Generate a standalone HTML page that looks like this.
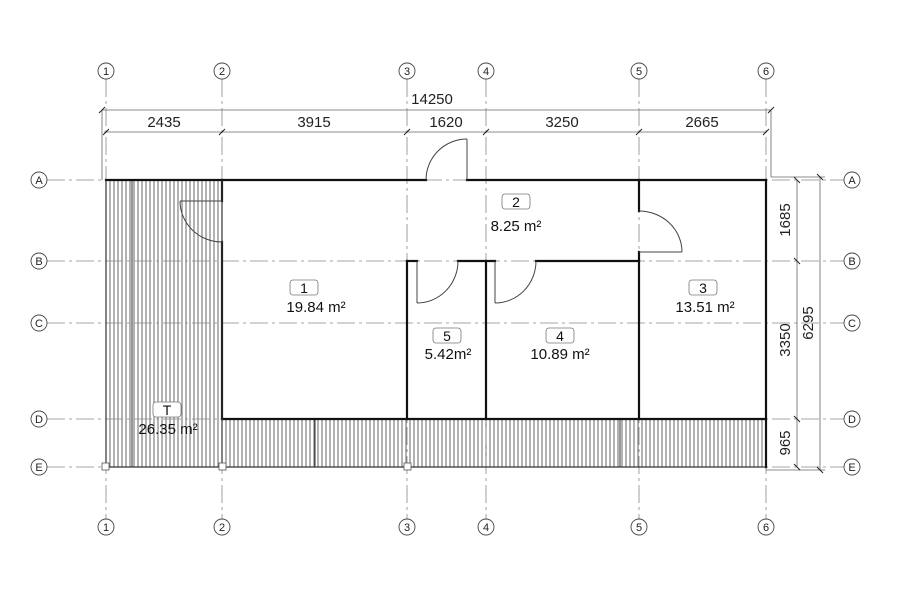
<!DOCTYPE html>
<html><head><meta charset="utf-8"><style>
html,body{margin:0;padding:0;background:#fff;}
svg{display:block;font-family:"Liberation Sans",sans-serif;}
</style></head><body>
<svg width="900" height="600" viewBox="0 0 900 600" xmlns="http://www.w3.org/2000/svg">
<defs>
<pattern id="h" width="4" height="10" patternUnits="userSpaceOnUse">
<line x1="2" y1="0" x2="2" y2="10" stroke="#555" stroke-width="0.9"/>
</pattern>
</defs>
<rect width="900" height="600" fill="#fff"/>
<rect x="106" y="180" width="116" height="287" fill="url(#h)"/>
<rect x="222" y="419" width="544" height="48" fill="url(#h)"/>
<g stroke="#333" stroke-width="1">
<line x1="132" y1="180" x2="132" y2="467"/>
<line x1="315" y1="419" x2="315" y2="467"/>
<line x1="620" y1="419" x2="620" y2="467"/>
</g>
<g stroke="#888" stroke-width="0.8" stroke-dasharray="18,4,3,4" fill="none">
<line x1="106" y1="79" x2="106" y2="519"/>
<line x1="222" y1="79" x2="222" y2="519"/>
<line x1="407" y1="79" x2="407" y2="519"/>
<line x1="486" y1="79" x2="486" y2="519"/>
<line x1="639" y1="79" x2="639" y2="519"/>
<line x1="766" y1="79" x2="766" y2="519"/>
<line x1="47" y1="180" x2="844" y2="180"/>
<line x1="47" y1="261" x2="844" y2="261"/>
<line x1="47" y1="323" x2="844" y2="323"/>
<line x1="47" y1="419" x2="844" y2="419"/>
<line x1="47" y1="467" x2="844" y2="467"/>
</g>
<g fill="#fff" stroke="#444" stroke-width="0.9">
<circle cx="106" cy="71" r="8"/><circle cx="222" cy="71" r="8"/><circle cx="407" cy="71" r="8"/><circle cx="486" cy="71" r="8"/><circle cx="639" cy="71" r="8"/><circle cx="766" cy="71" r="8"/>
<circle cx="106" cy="527" r="8"/><circle cx="222" cy="527" r="8"/><circle cx="407" cy="527" r="8"/><circle cx="486" cy="527" r="8"/><circle cx="639" cy="527" r="8"/><circle cx="766" cy="527" r="8"/>
<circle cx="39" cy="180" r="8"/><circle cx="39" cy="261" r="8"/><circle cx="39" cy="323" r="8"/><circle cx="39" cy="419" r="8"/><circle cx="39" cy="467" r="8"/>
<circle cx="852" cy="180" r="8"/><circle cx="852" cy="261" r="8"/><circle cx="852" cy="323" r="8"/><circle cx="852" cy="419" r="8"/><circle cx="852" cy="467" r="8"/>
</g>
<g font-size="11" fill="#222" text-anchor="middle">
<text x="106" y="75">1</text><text x="222" y="75">2</text><text x="407" y="75">3</text><text x="486" y="75">4</text><text x="639" y="75">5</text><text x="766" y="75">6</text>
<text x="106" y="531">1</text><text x="222" y="531">2</text><text x="407" y="531">3</text><text x="486" y="531">4</text><text x="639" y="531">5</text><text x="766" y="531">6</text>
<text x="39" y="184">A</text><text x="39" y="265">B</text><text x="39" y="327">C</text><text x="39" y="423">D</text><text x="39" y="471">E</text>
<text x="852" y="184">A</text><text x="852" y="265">B</text><text x="852" y="327">C</text><text x="852" y="423">D</text><text x="852" y="471">E</text>
</g>
<g stroke="#666" stroke-width="0.8" fill="none">
<line x1="102" y1="110" x2="771" y2="110"/>
<line x1="102" y1="110" x2="102" y2="180"/>
<line x1="771" y1="110" x2="771" y2="177"/>
<line x1="771" y1="177" x2="825" y2="177"/>
<line x1="104" y1="132" x2="766" y2="132"/>
<line x1="797" y1="180" x2="797" y2="467"/>
<line x1="820" y1="177" x2="820" y2="470"/>
<line x1="766" y1="470" x2="825" y2="470"/>
</g>
<g stroke="#222" stroke-width="1">
<line x1="99" y1="113" x2="105" y2="107"/><line x1="768" y1="113" x2="774" y2="107"/>
<line x1="103" y1="135" x2="109" y2="129"/><line x1="219" y1="135" x2="225" y2="129"/><line x1="404" y1="135" x2="410" y2="129"/><line x1="483" y1="135" x2="489" y2="129"/><line x1="636" y1="135" x2="642" y2="129"/><line x1="763" y1="135" x2="769" y2="129"/>
<line x1="794" y1="177" x2="800" y2="183"/><line x1="794" y1="258" x2="800" y2="264"/><line x1="794" y1="416" x2="800" y2="422"/><line x1="794" y1="464" x2="800" y2="470"/>
<line x1="817" y1="174" x2="823" y2="180"/><line x1="817" y1="467" x2="823" y2="473"/>
</g>
<g font-size="15" fill="#222" text-anchor="middle">
<text x="432" y="104">14250</text>
<text x="164" y="127">2435</text><text x="314" y="127">3915</text><text x="446" y="127">1620</text><text x="562" y="127">3250</text><text x="702" y="127">2665</text>
<text transform="translate(790,220) rotate(-90)">1685</text>
<text transform="translate(790,340) rotate(-90)">3350</text>
<text transform="translate(790,443) rotate(-90)">965</text>
<text transform="translate(813,323) rotate(-90)">6295</text>
</g>
<g stroke="#111" stroke-width="2.2" fill="none" stroke-linecap="square">
<line x1="106" y1="180" x2="426" y2="180"/>
<line x1="467" y1="180" x2="766" y2="180"/>
<line x1="222" y1="180" x2="222" y2="201"/>
<line x1="222" y1="242" x2="222" y2="419"/>
<line x1="407" y1="261" x2="407" y2="419"/>
<line x1="486" y1="261" x2="486" y2="419"/>
<line x1="639" y1="180" x2="639" y2="211"/>
<line x1="639" y1="252" x2="639" y2="419"/>
<line x1="766" y1="180" x2="766" y2="467"/>
<line x1="407" y1="261" x2="417" y2="261"/>
<line x1="458" y1="261" x2="495" y2="261"/>
<line x1="536" y1="261" x2="639" y2="261"/>
<line x1="222" y1="419" x2="766" y2="419"/>
</g>
<g stroke="#333" stroke-width="1.2" fill="none">
<line x1="106" y1="180" x2="106" y2="467"/>
<line x1="106" y1="467" x2="766" y2="467"/>
<line x1="222" y1="180" x2="222" y2="467"/>
</g>
<g stroke="#444" stroke-width="1" fill="none">
<line x1="467" y1="180" x2="467" y2="139"/><path d="M426 180 A41 41 0 0 1 467 139"/>
<line x1="222" y1="201" x2="180" y2="201"/><path d="M180 201 A42 41 0 0 0 222 242"/>
<line x1="639" y1="252" x2="682" y2="252"/><path d="M639 211 A43 41 0 0 1 682 252"/>
<line x1="417" y1="261" x2="417" y2="303"/><path d="M417 303 A41 42 0 0 0 458 261"/>
<line x1="495" y1="261" x2="495" y2="303"/><path d="M495 303 A41 42 0 0 0 536 261"/>
</g>
<g fill="#fff" stroke="#555" stroke-width="0.8">
<rect x="102" y="463" width="7" height="7"/><rect x="219" y="463" width="7" height="7"/><rect x="404" y="463" width="7" height="7"/>
</g>
<g fill="#fff" stroke="#777" stroke-width="0.8">
<rect x="290" y="280" width="28" height="15" rx="3"/>
<rect x="502" y="194" width="28" height="15" rx="3"/>
<rect x="689" y="280" width="28" height="15" rx="3"/>
<rect x="546" y="328" width="28" height="15" rx="3"/>
<rect x="433" y="328" width="28" height="15" rx="3"/>
<rect x="153" y="402" width="28" height="15" rx="3"/>
</g>
<g font-size="14" fill="#111" text-anchor="middle">
<text x="304" y="293">1</text><text x="516" y="207">2</text><text x="703" y="293">3</text><text x="560" y="341">4</text><text x="447" y="341">5</text><text x="167" y="415">T</text>
<text x="316" y="312" font-size="15">19.84 m²</text>
<text x="516" y="231" font-size="15">8.25 m²</text>
<text x="705" y="312" font-size="15">13.51 m²</text>
<text x="560" y="359" font-size="15">10.89 m²</text>
<text x="448" y="359" font-size="15">5.42m²</text>
<text x="168" y="434" font-size="15">26.35 m²</text>
</g>
</svg>
</body></html>
